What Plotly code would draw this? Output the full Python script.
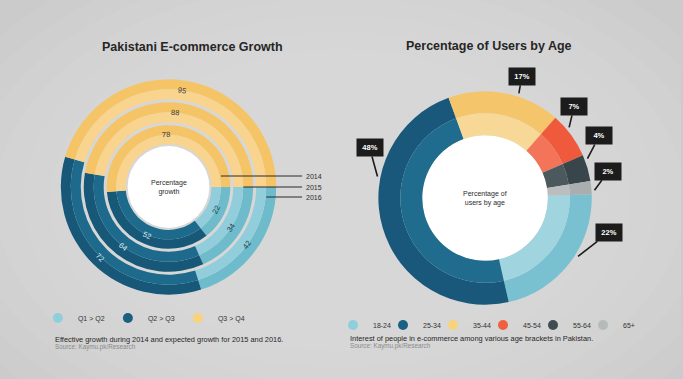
import math
import plotly.graph_objects as go

W, H = 683, 379

# ---------------- data ----------------
# Left: Pakistani E-commerce Growth (per year, per quarter step)
years = ["2014", "2015", "2016"]
quarters = ["Q1 > Q2", "Q2 > Q3", "Q3 > Q4"]
growth_q1_q2 = [22, 34, 42]
growth_q2_q3 = [52, 64, 72]
growth_q3_q4 = [78, 88, 95]

# Right: Percentage of Users by Age
age_groups = ["18-24", "25-34", "35-44", "45-54", "55-64", "65+"]
age_share = [22, 48, 17, 7, 4, 2]

# ---------------- styles ----------------
FONT = "Liberation Sans"
q_dark = ["#6dbbcb", "#175777", "#f5c467"]
q_light = ["#92cddb", "#1d6a8c", "#f8d48e"]
q_text = ["#23404c", "#d8eef5", "#3a3a3a"]
q_legend = ["#8fcfdc", "#1b5f82", "#f9d27c"]

age_dark = ["#79c1d0", "#19587a", "#f5c56c", "#ef5a3c", "#38454a", "#a9aeaf"]
age_light = ["#a0d4df", "#1f6c8e", "#f8d897", "#f37458", "#4b595e", "#babebf"]
age_legend = ["#8fcfdc", "#1b5f82", "#f9d27c", "#f0603e", "#3f4c50", "#b6babb"]

# geometry (pixels)
L_CX, L_CY = 169, 187
L_WHITE = 41
L_RINGS = [(43, 62), (65, 85), (88, 108)]
R_CX, R_CY = 486.5, 198
R_WHITE = 63
R_BANDS = [(63, 85), (85, 107)]
L_ROT = 90   # start at 3 o'clock
R_ROT = 88


def domain(cx, cy, r):
    return dict(x=[(cx - r) / W, (cx + r) / W],
                y=[(H - cy - r) / H, (H - cy + r) / H])


def ring(cx, cy, r_in, r_out, values, colors, rot, **kw):
    args = dict(values=values, domain=domain(cx, cy, r_out),
                hole=r_in / r_out if r_in > 0 else 0,
                marker=dict(colors=colors, line=dict(width=0)),
                sort=False, direction="clockwise", rotation=rot,
                textinfo="none", hoverinfo="skip", showlegend=False)
    args.update(kw)
    return go.Pie(**args)


fig = go.Figure()
shapes = []
annotations = []

# ---------- left chart ----------
fig.add_trace(ring(L_CX, L_CY, 0, L_WHITE, [1], ["#ffffff"], L_ROT))
for i, yr in enumerate(years):
    vals = [growth_q1_q2[i], growth_q2_q3[i], growth_q3_q4[i]]
    r_in, r_out = L_RINGS[i]
    r_mid = (r_in + r_out) / 2
    fig.add_trace(ring(L_CX, L_CY, r_mid, r_out, vals, q_dark, L_ROT))
    fig.add_trace(ring(L_CX, L_CY, r_in, r_mid, vals, q_light, L_ROT))
    # value labels at slice mid-angles, tangential orientation
    tot = sum(vals)
    cum = 0
    for j, v in enumerate(vals):
        th = (90 - L_ROT) - 360 * (cum + v / 2) / tot
        cum += v
        rad = math.radians(th)
        tx = L_CX + r_mid * math.cos(rad)
        ty = L_CY - r_mid * math.sin(rad)
        ang = -th - 90
        while ang > 90:
            ang -= 180
        while ang <= -90:
            ang += 180
        annotations.append(dict(x=tx, y=ty, xref="x", yref="y", text=str(v),
                                showarrow=False, textangle=ang,
                                font=dict(size=7.5, color=q_text[j], family=FONT)))

# ---------- right chart ----------
fig.add_trace(ring(R_CX, R_CY, 0, R_WHITE, [1], ["#ffffff"], R_ROT))
fig.add_trace(ring(R_CX, R_CY, R_BANDS[1][0], R_BANDS[1][1], age_share, age_dark, R_ROT))
fig.add_trace(ring(R_CX, R_CY, R_BANDS[0][0], R_BANDS[0][1], age_share, age_light, R_ROT))

# ---------- legends (dummy traces) ----------
for name, c in zip(quarters, q_legend):
    fig.add_trace(go.Scatter(x=[None], y=[None], mode="markers", name=name,
                             marker=dict(size=10, color=c), legend="legend",
                             hoverinfo="skip"))
for name, c in zip(age_groups, age_legend):
    fig.add_trace(go.Scatter(x=[None], y=[None], mode="markers", name=name,
                             marker=dict(size=10, color=c), legend="legend2",
                             hoverinfo="skip"))
# invisible spacer entry so the last legend label is not clipped
fig.add_trace(go.Scatter(x=[None], y=[None], mode="markers", name=" ",
                         marker=dict(size=1, color="rgba(0,0,0,0)"),
                         legend="legend2", hoverinfo="skip"))

# background soft radial gradient
for k in range(8):
    rx = 430 - k * 28
    ry = 270 - k * 17
    shapes.append(dict(type="circle", xref="x", yref="y", layer="below",
                       x0=341 - rx, x1=341 + rx, y0=200 - ry, y1=200 + ry,
                       fillcolor="rgba(255,255,255,0.045)", line=dict(width=0)))

# year leader lines
year_dy = [-11, 0, 10]
for i, yr in enumerate(years):
    r_in, r_out = L_RINGS[i]
    x0 = L_CX + (r_in + r_out) / 2
    y = L_CY + year_dy[i]
    shapes.append(dict(type="line", xref="x", yref="y", x0=x0, x1=303,
                       y0=y, y1=y, line=dict(color="#2b2b2b", width=1)))
    annotations.append(dict(x=305, y=y, xref="x", yref="y", text=yr,
                            showarrow=False, xanchor="left", yanchor="middle",
                            font=dict(size=7, color="#2b2b2b", family=FONT)))

# titles
annotations.append(dict(x=193, y=47, xref="x", yref="y",
                        text="<b>Pakistani E-commerce Growth</b>",
                        showarrow=False, font=dict(size=12.5, color="#262626", family=FONT)))
annotations.append(dict(x=490, y=46, xref="x", yref="y",
                        text="<b>Percentage of Users by Age</b>",
                        showarrow=False, font=dict(size=12.5, color="#262626", family=FONT)))

# center labels
annotations.append(dict(x=L_CX, y=L_CY, xref="x", yref="y",
                        text="Percentage<br>growth", showarrow=False,
                        font=dict(size=7, color="#2b2b2b", family=FONT)))
annotations.append(dict(x=R_CX, y=R_CY, xref="x", yref="y",
                        text="Percentage of<br>users by age", showarrow=False,
                        font=dict(size=7, color="#2b2b2b", family=FONT)))

# callouts on the age donut
callout_frac = [0.43, 0.66, 0.62, 0.35, 0.18, 0.72]
callout_off = [(31, -24), (-8, -29), (3, -17), (5, -21), (12, -23), (14, -19)]
theta0 = 90 - R_ROT
cum = 0
total = sum(age_share)
for i, v in enumerate(age_share):
    frac_pos = (cum + callout_frac[i] * v) / total
    th = math.radians(theta0 - 360 * frac_pos)
    tip_r = R_BANDS[1][1] + 3
    tx = R_CX + tip_r * math.cos(th)
    ty = R_CY - tip_r * math.sin(th)
    dx, dy = callout_off[i]
    annotations.append(dict(x=tx, y=ty, xref="x", yref="y",
                            ax=tx + dx, ay=ty + dy, axref="x", ayref="y",
                            text=f"<b>{v}%</b>", showarrow=True, arrowhead=0,
                            arrowwidth=1.6, arrowcolor="#1c1c1c",
                            bgcolor="#1c1c1c", width=24, height=15, borderpad=1,
                            font=dict(size=7.5, color="#ffffff", family=FONT)))
    cum += v

# captions
annotations.append(dict(x=53, y=339, xref="x", yref="y", xanchor="left", yanchor="middle",
                        text="Effective growth during 2014 and expected growth for 2015 and 2016.",
                        showarrow=False, font=dict(size=7.4, color="#262626", family=FONT)))
annotations.append(dict(x=53, y=346.5, xref="x", yref="y", xanchor="left", yanchor="middle",
                        text="Source: Kaymu.pk/Research",
                        showarrow=False, font=dict(size=6.3, color="#8a8a8a", family=FONT)))
annotations.append(dict(x=349, y=338, xref="x", yref="y", xanchor="left", yanchor="middle",
                        text="Interest of people in e-commerce among various age brackets in Pakistan.",
                        showarrow=False, font=dict(size=7.4, color="#262626", family=FONT)))
annotations.append(dict(x=349, y=345.5, xref="x", yref="y", xanchor="left", yanchor="middle",
                        text="Source: Kaymu.pk/Research",
                        showarrow=False, font=dict(size=6.3, color="#8a8a8a", family=FONT)))

fig.update_layout(
    width=W, height=H,
    margin=dict(l=0, r=0, t=0, b=0),
    paper_bgcolor="#cbcbcb",
    plot_bgcolor="rgba(0,0,0,0)",
    xaxis=dict(range=[0, W], visible=False, fixedrange=True, domain=[0, 1]),
    yaxis=dict(range=[H, 0], visible=False, fixedrange=True, domain=[0, 1]),
    shapes=shapes,
    annotations=annotations,
    showlegend=True,
    legend=dict(orientation="h", x=(60 - 22) / W, y=1 - 318 / H,
                xanchor="left", yanchor="middle", bgcolor="rgba(0,0,0,0)",
                entrywidth=25, entrywidthmode="pixels",
                font=dict(size=7, color="#333333", family=FONT)),
    legend2=dict(orientation="h", x=(356 - 22) / W, y=1 - 325 / H,
                 xanchor="left", yanchor="middle", bgcolor="rgba(0,0,0,0)",
                 entrywidth=5, entrywidthmode="pixels",
                 font=dict(size=7, color="#333333", family=FONT)),
    font=dict(family=FONT),
)

fig.write_html("out.html",
               config={"displayModeBar": False},
               post_script="document.body.style.margin='0';"
                           "document.body.style.overflow='hidden';")
